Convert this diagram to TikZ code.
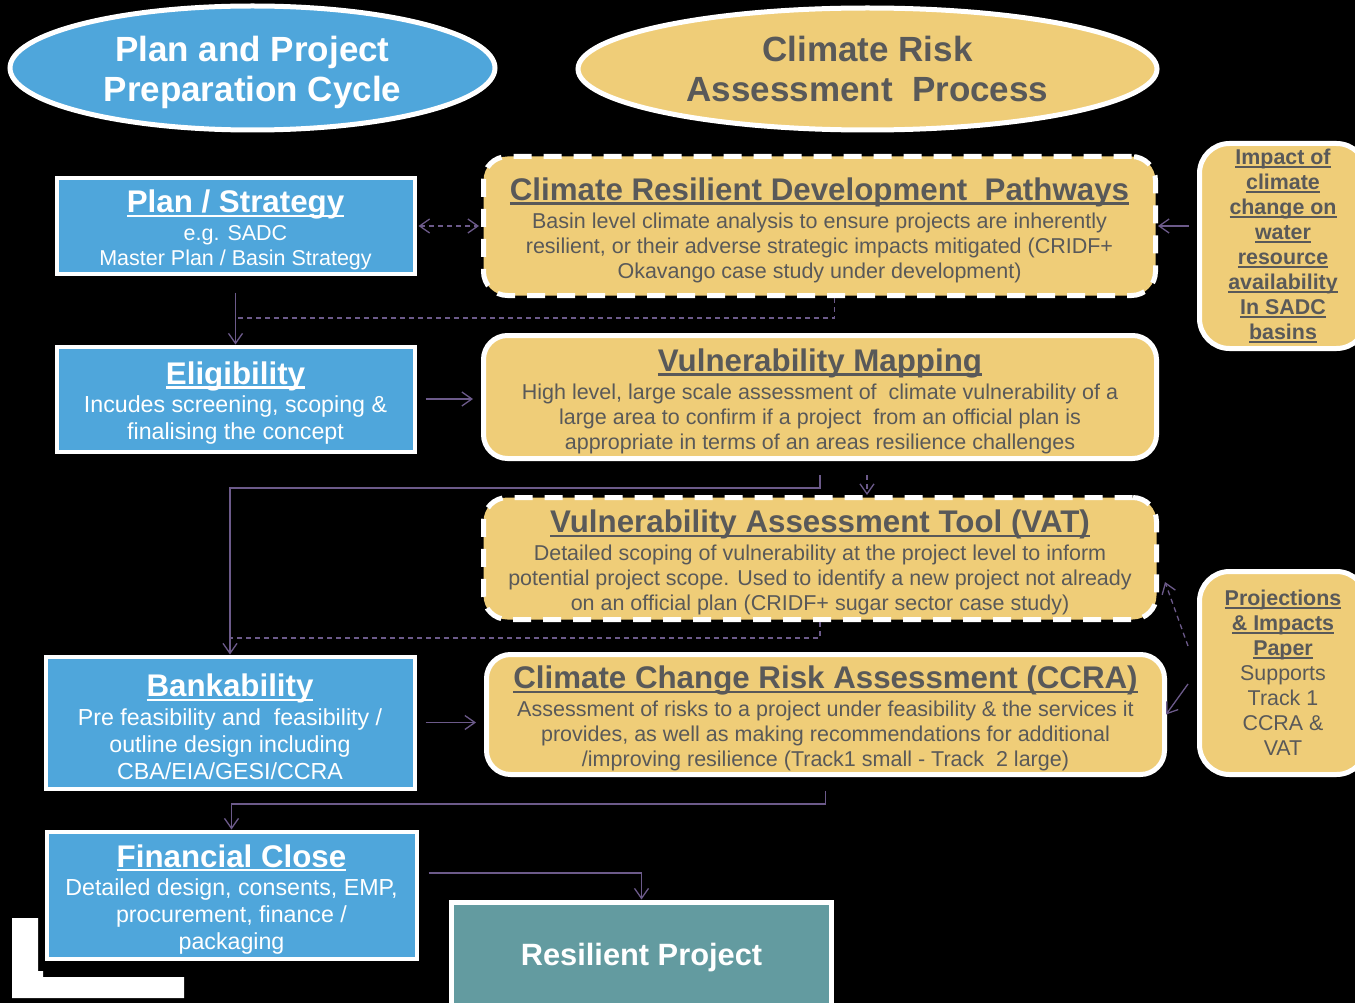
\documentclass[tikz,border=0pt]{standalone}
\usepackage{fontspec}
\setmainfont{Liberation Sans}
\usetikzlibrary{shapes.geometric}
\usetikzlibrary{positioning}
\usetikzlibrary{arrows.meta}
\definecolor{planblue}{RGB}{79,166,219}
\definecolor{riskyellow}{RGB}{239,205,120}
\definecolor{textgray}{RGB}{89,89,89}
\definecolor{projteal}{RGB}{99,155,160}
\definecolor{linepurple}{RGB}{108,90,138}
\newcommand{\ellfont}{\fontsize{35}{40}\selectfont\bfseries}
\newcommand{\headfont}{\fontsize{31.3}{34}\selectfont\bfseries}
\newcommand{\smallbody}{\fontsize{21.5}{25}\selectfont}
\newcommand{\sidebody}{\fontsize{21.4}{25}\selectfont}
\newcommand{\bigbody}{\fontsize{23.2}{27}\selectfont}
\newcommand{\ulbar}[1]{\setbox0=\hbox{#1}\rlap{\rule[-0.14em]{\wd0}{0.085em}}\box0}
\newcommand{\boxtitle}[1]{{\headfont\rule{0pt}{1em}\ulbar{#1}}}
\tikzset{
    ellblue/.style = {ellipse, line width=5, draw=white, fill=planblue, text=white, align=center, inner sep=0, font=\ellfont},
    ellyel/.style = {ellblue, fill=riskyellow, text=textgray},
    bluebox/.style = {rectangle, line width=4, draw=white, fill=planblue, text=white, align=center, inner sep=0, font=\bigbody},
    yelbox/.style = {rectangle, rounded corners=24, line width=5, draw=white, fill=riskyellow, text=textgray, align=center, inner sep=0, font=\smallbody},
    yelboxd/.style = {yelbox, dash pattern=on 18pt off 12pt},
    sidebox/.style = {yelbox, rounded corners=30, minimum width=167, font=\sidebody},
    tealbox/.style = {rectangle, line width=5, draw=white, fill=projteal, text=white, align=center, font=\fontsize{30.8}{34}\selectfont\bfseries},
    edgep/.style = {->, line width=1.3, linepurple},
    edged/.style = {edgep, dash pattern=on 5pt off 4pt}, % planned link
}
\begin{document}
\begin{tikzpicture}[x=1pt,y=-1pt,>={Straight Barb[length=10pt,width=14pt]}]
  \useasboundingbox (0,0) rectangle (1355,1003);
  \clip (0,0) rectangle (1355,1003);
  \fill[black] (0,0) rectangle (1355,1003);
  \fill[white] (12,918) -- (38,918) -- (38,971) -- (43,971) -- (43,977) -- (184,977) -- (184,998) -- (12,998) -- cycle;

  % headings
  \node[ellblue, minimum width=485, minimum height=124] (cycle) at (252.5,68) {\rule{0pt}{1em}Plan and Project\\Preparation Cycle};
  \node[ellyel, minimum width=579, minimum height=122] (process) at (867.5,69) {Climate Risk\\Assessment~ Process};

  % preparation cycle
  \node[bluebox, font=\smallbody, minimum width=358, minimum height=95] (plan) at (235.5,226)
    {\boxtitle{Plan / Strategy}\\[3pt]e.g. SADC\\Master Plan / Basin Strategy};
  \node[bluebox, minimum width=358, minimum height=105] (elig) at (235.5,399)
    {\boxtitle{Eligibility}\\[1pt]Incudes screening, scoping \&\\finalising the concept};
  \node[bluebox, minimum width=369, minimum height=132] (bank) at (230,722.5)
    {\boxtitle{Bankability}\\[1.5pt]Pre feasibility and~ feasibility /\\outline design including\\CBA/EIA/GESI/CCRA};
  \node[bluebox, minimum width=370, minimum height=127] (fin) at (231.5,895)
    {\boxtitle{Financial Close}\\[1.5pt]Detailed design, consents, EMP,\\procurement, finance /\\packaging};
  \node[tealbox, minimum width=380, minimum height=112] (res) at (641.5,958) {Resilient Project};

  % risk assessment
  \node[yelboxd, minimum width=672, minimum height=139] (crdp) at (819.5,226)
    {\boxtitle{Climate Resilient Development~ Pathways}\\[3pt]Basin level climate analysis to ensure projects are inherently\\resilient, or their adverse strategic impacts mitigated (CRIDF+\\Okavango case study under development)};
  \node[yelbox, minimum width=673, minimum height=123] (vm) at (820,397)
    {\boxtitle{Vulnerability Mapping}\\[3pt]High level, large scale assessment of~ climate vulnerability of a\\large area to confirm if a project~ from an official plan is\\appropriate in terms of an areas resilience challenges};
  \node[yelboxd, minimum width=673, minimum height=122] (vat) at (820,558.5)
    {\boxtitle{Vulnerability Assessment Tool (VAT)}\\[3pt]Detailed scoping of vulnerability at the project level to inform\\potential project scope. Used to identify a new project not already\\on an official plan (CRIDF+ sugar sector case study)};
  \node[yelbox, minimum width=678, minimum height=120] (ccra) at (825.5,714.5)
    {\boxtitle{Climate Change Risk Assessment (CCRA)}\\[3pt]Assessment of risks to a project under feasibility \& the services it\\provides, as well as making recommendations for additional\\/improving resilience (Track1 small - Track~ 2 large)};

  % supporting papers
  \node[sidebox, font=\sidebody\bfseries, minimum height=205] (impact) at (1283,246)
    {\ulbar{Impact of}\\\ulbar{climate}\\\ulbar{change on}\\\ulbar{water}\\\ulbar{resource}\\\ulbar{availability}\\\ulbar{In SADC}\\\ulbar{basins}};
  \node[sidebox, minimum height=203] (proj) at (1283,673)
    {{\bfseries\ulbar{Projections}}\\{\bfseries\ulbar{\& Impacts}}\\{\bfseries\ulbar{Paper}}\\Supports\\Track 1\\CCRA \&\\VAT};

  \coordinate (j1) at (236,318);
  \coordinate (j2) at (231,638);

  % connectors
  \draw[edged, <->, shorten <=2, shorten >=2] (plan) -- (crdp);
  \draw[edgep, shorten <=17] (plan) -- (elig);
  \draw[edged, -] ([xshift=15]crdp.south) |- (j1);
  \draw[edgep, shorten <=9, shorten >=8] (elig.east) -- (elig.east -| vm.west);
  \draw[edgep] ([yshift=-14]vm.south) -- ++(0,13) -| (bank.north);
  \draw[edged] ([xshift=47,yshift=-14]vm.south) -- ([xshift=47]vat.north);
  \draw[edged, -] (vat.south) |- (j2);
  \draw[edgep, shorten <=9, shorten >=8] (bank.east) -- (bank.east -| ccra.west);
  \draw[edgep] ([yshift=-14]ccra.south) -- ++(0,13) -| (fin.north);
  \draw[edgep] ([xshift=10,yshift=22]fin.east) -| (res.north);
  \draw[edgep, shorten <=8] (impact.west |- crdp.east) -- (crdp.east);
  \draw[edged] ([xshift=-9,yshift=27]proj.west) -- ([xshift=6,yshift=-23.5]vat.east);
  \draw[edgep] ([xshift=-9,yshift=-11]proj.west) -- ([xshift=-1]ccra.east);

\end{tikzpicture}
\end{document}
